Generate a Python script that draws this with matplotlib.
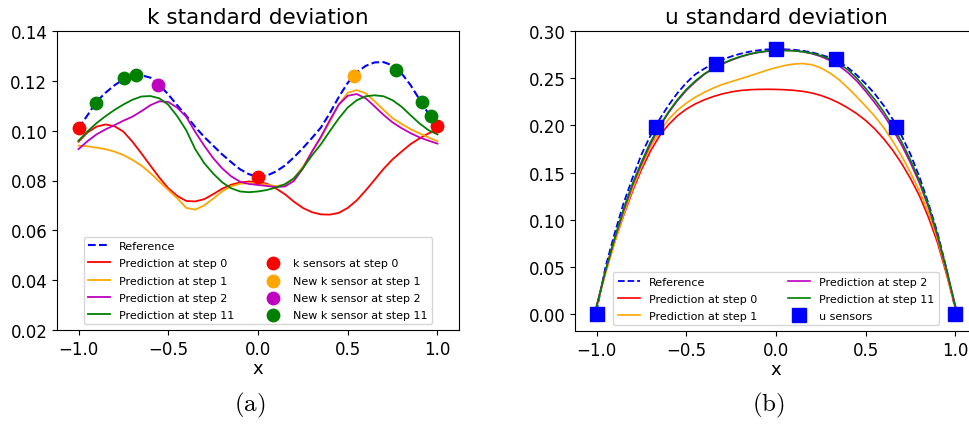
import numpy as np
import matplotlib
matplotlib.use("Agg")
import matplotlib.pyplot as plt
from matplotlib.lines import Line2D

plt.rcParams['mathtext.fontset'] = 'cm'

# common x grid of the 1D domain
x_grid = np.round(np.arange(-1.0, 1.0001, 0.05), 2)

# ---- k standard deviation ----
k_ref = [0.1010, 0.1062, 0.1116, 0.1152, 0.1182, 0.1206, 0.1220, 0.1222, 0.1213, 0.1185,
         0.1145, 0.1102, 0.1060, 0.1015, 0.0975, 0.0940, 0.0905, 0.0874, 0.0845, 0.0825,
         0.0816, 0.0820, 0.0836, 0.0860, 0.0893, 0.0930, 0.0970, 0.1012, 0.1070, 0.1135,
         0.1192, 0.1234, 0.1260, 0.1274, 0.1275, 0.1262, 0.1230, 0.1183, 0.1125, 0.1068,
         0.1020]
k_step0 = [0.0956, 0.0993, 0.1016, 0.1025, 0.1018, 0.0996, 0.0956, 0.0909, 0.0860, 0.0812,
           0.0769, 0.0738, 0.0718, 0.0716, 0.0725, 0.0745, 0.0767, 0.0783, 0.0792, 0.0796,
           0.0794, 0.0787, 0.0768, 0.0745, 0.0715, 0.0690, 0.0673, 0.0664, 0.0663, 0.0670,
           0.0690, 0.0720, 0.0760, 0.0803, 0.0847, 0.0885, 0.0916, 0.0946, 0.0969, 0.0989,
           0.1004]
k_step1 = [0.0940, 0.0937, 0.0932, 0.0926, 0.0916, 0.0902, 0.0883, 0.0860, 0.0830, 0.0796,
           0.0762, 0.0729, 0.0690, 0.0683, 0.0700, 0.0727, 0.0756, 0.0777, 0.0787, 0.0790,
           0.0789, 0.0783, 0.0777, 0.0784, 0.0808, 0.0855, 0.0915, 0.0970, 0.1036, 0.1105,
           0.1152, 0.1163, 0.1150, 0.1118, 0.1083, 0.1050, 0.1027, 0.1006, 0.0989, 0.0973,
           0.0957]
k_step2 = [0.0926, 0.0958, 0.0985, 0.1005, 0.1022, 0.1040, 0.1056, 0.1078, 0.1102, 0.1118,
           0.1115, 0.1092, 0.1056, 0.0995, 0.0940, 0.0890, 0.0849, 0.0817, 0.0795, 0.0786,
           0.0782, 0.0778, 0.0774, 0.0776, 0.0798, 0.0848, 0.0915, 0.0975, 0.1042, 0.1105,
           0.1140, 0.1147, 0.1130, 0.1097, 0.1063, 0.1033, 0.1010, 0.0990, 0.0973, 0.0960,
           0.0948]
k_step11 = [0.0960, 0.0997, 0.1030, 0.1058, 0.1083, 0.1105, 0.1124, 0.1137, 0.1139, 0.1130,
            0.1104, 0.1058, 0.1002, 0.0926, 0.0870, 0.0828, 0.0793, 0.0769, 0.0756, 0.0753,
            0.0756, 0.0762, 0.0772, 0.0785, 0.0809, 0.0849, 0.0900, 0.0945, 0.0998, 0.1049,
            0.1093, 0.1122, 0.1138, 0.1142, 0.1138, 0.1122, 0.1096, 0.1062, 0.1029, 0.1002,
            0.0985]

# sensor locations and values
ks0_x = [-1.0, 0.0, 1.0]
ks0_y = [0.1010, 0.0815, 0.1020]
ks1_x = [0.535]
ks1_y = [0.1218]
ks2_x = [-0.557]
ks2_y = [0.1182]
ks11_x = [-0.901, -0.749, -0.678, 0.771, 0.912, 0.963]
ks11_y = [0.1113, 0.1211, 0.1223, 0.1245, 0.1117, 0.1060]

# ---- u standard deviation ----
u_ref = [0.0030, 0.0500, 0.0850, 0.1170, 0.1440, 0.1690, 0.1890, 0.2060, 0.2210, 0.2340,
         0.2450, 0.2540, 0.2600, 0.2655, 0.2695, 0.2730, 0.2758, 0.2780, 0.2795, 0.2805,
         0.2808, 0.2806, 0.2801, 0.2790, 0.2773, 0.2748, 0.2718, 0.2675, 0.2612, 0.2533,
         0.2440, 0.2335, 0.2210, 0.2065, 0.1890, 0.1690, 0.1450, 0.1170, 0.0860, 0.0480,
         0.0040]
u_step0 = [0.0080, 0.0440, 0.0760, 0.1040, 0.1300, 0.1530, 0.1725, 0.1885, 0.2005, 0.2100,
           0.2172, 0.2227, 0.2270, 0.2305, 0.2333, 0.2354, 0.2369, 0.2377, 0.2381, 0.2382,
           0.2381, 0.2377, 0.2371, 0.2360, 0.2343, 0.2317, 0.2282, 0.2238, 0.2185, 0.2124,
           0.2051, 0.1963, 0.1857, 0.1737, 0.1596, 0.1434, 0.1250, 0.1022, 0.0757, 0.0423,
           0.0060]
u_step1 = [0.0080, 0.0430, 0.0750, 0.1050, 0.1320, 0.1560, 0.1770, 0.1930, 0.2060, 0.2160,
           0.2235, 0.2298, 0.2350, 0.2395, 0.2432, 0.2463, 0.2492, 0.2522, 0.2553, 0.2585,
           0.2612, 0.2635, 0.2650, 0.2655, 0.2643, 0.2608, 0.2555, 0.2485, 0.2398, 0.2302,
           0.2202, 0.2097, 0.1975, 0.1833, 0.1675, 0.1498, 0.1302, 0.1075, 0.0795, 0.0445,
           0.0070]
u_step2 = [0.0080, 0.0460, 0.0790, 0.1090, 0.1360, 0.1590, 0.1800, 0.1980, 0.2130, 0.2260,
           0.2370, 0.2460, 0.2540, 0.2600, 0.2650, 0.2690, 0.2725, 0.2752, 0.2772, 0.2785,
           0.2792, 0.2795, 0.2792, 0.2780, 0.2760, 0.2730, 0.2688, 0.2632, 0.2560, 0.2470,
           0.2360, 0.2240, 0.2110, 0.1960, 0.1790, 0.1600, 0.1385, 0.1130, 0.0825, 0.0465,
           0.0080]
u_step11 = [0.0080, 0.0460, 0.0800, 0.1110, 0.1380, 0.1610, 0.1820, 0.1990, 0.2140, 0.2270,
            0.2380, 0.2470, 0.2545, 0.2605, 0.2655, 0.2695, 0.2728, 0.2755, 0.2775, 0.2787,
            0.2792, 0.2793, 0.2790, 0.2780, 0.2763, 0.2738, 0.2703, 0.2655, 0.2590, 0.2500,
            0.2390, 0.2275, 0.2145, 0.1995, 0.1825, 0.1630, 0.1410, 0.1150, 0.0840, 0.0475,
            0.0080]

us_x = [-1.0, -0.667, -0.333, 0.0, 0.333, 0.667, 1.0]
us_y = [0.0, 0.1985, 0.2655, 0.2812, 0.2700, 0.1982, 0.0]

fig = plt.figure(figsize=(9.7, 4.27), dpi=100)
W, H = 970.0, 427.0
ax1 = fig.add_axes([57 / W, 1 - 331 / H, 402 / W, 299 / H])
ax2 = fig.add_axes([575 / W, 1 - 332 / H, 402 / W, 300 / H])

# left panel: k
ax1.plot(x_grid, k_ref, 'b--', lw=1.5, label='Reference')
ax1.plot(x_grid, k_step0, color='r', lw=1.3, label='Prediction at step 0')
ax1.plot(x_grid, k_step1, color='orange', lw=1.3, label='Prediction at step 1')
ax1.plot(x_grid, k_step2, color='m', lw=1.3, label='Prediction at step 2')
ax1.plot(x_grid, k_step11, color='g', lw=1.3, label='Prediction at step 11')
blank = Line2D([], [], alpha=0, label=' ')
ax1.scatter(ks0_x, ks0_y, color='r', s=80, zorder=3, label='k sensors at step 0')
ax1.scatter(ks1_x, ks1_y, color='orange', s=80, zorder=3, label='New k sensor at step 1')
ax1.scatter(ks2_x, ks2_y, color='m', s=80, zorder=3, label='New k sensor at step 2')
ax1.scatter(ks11_x, ks11_y, color='g', s=80, zorder=3, label='New k sensor at step 11')
h, l = ax1.get_legend_handles_labels()
# empty slot so the sensor entries start on the second row
h = h[:5] + [blank] + h[5:]
l = l[:5] + [' '] + l[5:]
ax1.legend(h, l, loc='lower center', ncol=2, fontsize=8, columnspacing=2.5,
           labelspacing=0.65)
ax1.set_xlim(-1.12, 1.12)
ax1.set_ylim(0.02, 0.14)
ax1.set_xticks([-1.0, -0.5, 0.0, 0.5, 1.0])
ax1.set_yticks(np.arange(0.02, 0.1401, 0.02))
ax1.set_title('k standard deviation', fontsize=15.5)
ax1.set_xlabel('x', fontsize=13, labelpad=1)
ax1.tick_params(labelsize=12)

# right panel: u
ax2.plot(x_grid, u_ref, 'b--', lw=1.3, label='Reference')
ax2.plot(x_grid, u_step0, color='r', lw=1.2, label='Prediction at step 0')
ax2.plot(x_grid, u_step1, color='orange', lw=1.2, label='Prediction at step 1')
ax2.plot(x_grid, u_step2, color='m', lw=1.2, label='Prediction at step 2')
ax2.plot(x_grid, u_step11, color='g', lw=1.2, label='Prediction at step 11')
ax2.plot(us_x, us_y, 's', color='b', ms=9.5, label='u sensors')
ax2.legend(loc='lower center', ncol=2, fontsize=8, columnspacing=2.8,
           labelspacing=0.65)
ax2.set_xlim(-1.12, 1.12)
ax2.set_ylim(-0.018, 0.30)
ax2.set_xticks([-1.0, -0.5, 0.0, 0.5, 1.0])
ax2.set_yticks(np.arange(0.0, 0.3001, 0.05))
ax2.set_title('u standard deviation', fontsize=15.5)
ax2.set_xlabel('x', fontsize=13, labelpad=1)
ax2.tick_params(labelsize=12)

fig.text(250 / W, 1 - 405 / H, r'$\mathrm{(a)}$', fontsize=18, ha='center', va='center')
fig.text(768 / W, 1 - 405 / H, r'$\mathrm{(b)}$', fontsize=18, ha='center', va='center')

fig.savefig('out.png', dpi=100)
